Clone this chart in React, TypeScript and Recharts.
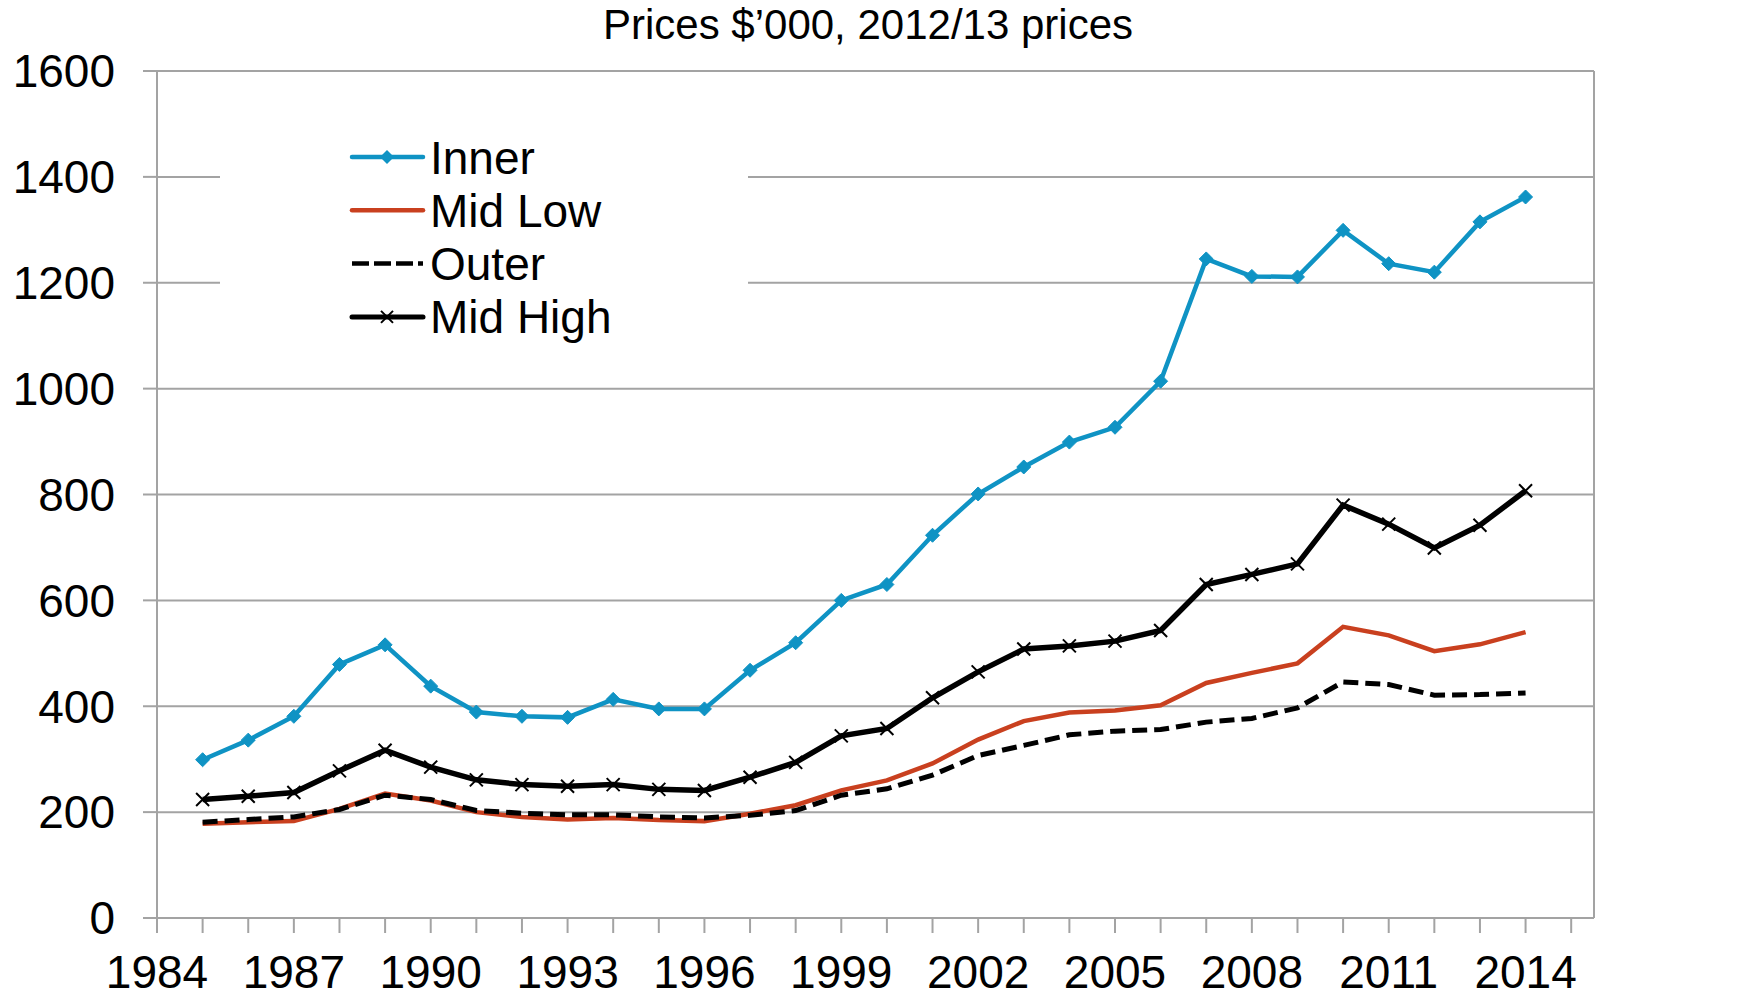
import React from "react";
import {
  LineChart, Line, XAxis, YAxis, CartesianGrid, Legend,
} from "recharts";

// ── Data ───────────────────────────────────────────────────────────────────
const years = [
  1985, 1986, 1987, 1988, 1989, 1990, 1991, 1992, 1993, 1994,
  1995, 1996, 1997, 1998, 1999, 2000, 2001, 2002, 2003, 2004,
  2005, 2006, 2007, 2008, 2009, 2010, 2011, 2012, 2013, 2014,
];
const inner = [
  299, 336, 381, 479, 516, 438, 389, 381, 379, 413,
  395, 395, 468, 520, 600, 630, 723, 801, 852, 899,
  927, 1014, 1245, 1212, 1211, 1299, 1236, 1220, 1315, 1362,
];
const midLow = [
  178, 181, 183, 206, 235, 222, 200, 191, 186, 189,
  185, 183, 197, 213, 241, 260, 292, 337, 372, 388,
  392, 402, 444, 463, 481, 550, 534, 504, 517, 540,
];
const outer = [
  181, 186, 191, 205, 232, 224, 203, 198, 195, 195,
  191, 189, 194, 203, 232, 244, 270, 307, 326, 346,
  353, 356, 370, 377, 397, 446, 441, 421, 422, 425,
];
const midHigh = [
  224, 230, 237, 278, 317, 285, 261, 252, 249, 252,
  243, 241, 266, 294, 344, 358, 416, 465, 508, 514,
  523, 543, 630, 649, 669, 780, 744, 699, 742, 807,
];
const xTicks = [
  1984, 1985, 1986, 1987, 1988, 1989, 1990, 1991, 1992, 1993, 1994,
  1995, 1996, 1997, 1998, 1999, 2000, 2001, 2002, 2003, 2004, 2005,
  2006, 2007, 2008, 2009, 2010, 2011, 2012, 2013, 2014, 2015,
];
const xLabels = [1984, 1987, 1990, 1993, 1996, 1999, 2002, 2005, 2008, 2011, 2014];
const yTicks = [0, 200, 400, 600, 800, 1000, 1200, 1400, 1600];
const title = "Prices $\u2019000, 2012/13 prices";

const data = years.map((year, i) => ({
  year,
  Inner: inner[i],
  "Mid Low": midLow[i],
  Outer: outer[i],
  "Mid High": midHigh[i],
}));

// ── Style ──────────────────────────────────────────────────────────────────
const FONT = "'Liberation Sans', Arial, Helvetica, sans-serif";
const GRID = "#a3a3a3";
const BLUE = "#0f93c4";
const RED = "#c9401f";
const BLACK = "#000000";

const TICK_STYLE = { fill: "#000", fontSize: 46, fontFamily: FONT };

// ── Markers ────────────────────────────────────────────────────────────────
const diamond = (cx: number, cy: number, r: number) =>
  `M${cx},${cy - r} L${cx + r},${cy} L${cx},${cy + r} L${cx - r},${cy} Z`;

const DiamondDot = (props: any) => {
  const { cx, cy, index } = props;
  if (cx == null || cy == null) return <g key={`d-${index}`} />;
  return <path key={`d-${index}`} d={diamond(cx, cy, 7)} fill={BLUE} stroke={BLUE} strokeWidth={1} />;
};

const CrossDot = (props: any) => {
  const { cx, cy, index } = props;
  if (cx == null || cy == null) return <g key={`x-${index}`} />;
  const r = 6.5;
  return (
    <path
      key={`x-${index}`}
      d={`M${cx - r},${cy - r} L${cx + r},${cy + r} M${cx - r},${cy + r} L${cx + r},${cy - r}`}
      stroke={BLACK}
      strokeWidth={2}
      fill="none"
    />
  );
};

// ── Legend ─────────────────────────────────────────────────────────────────
const LEGEND_ROWS = [
  { name: "Inner", color: BLUE, dash: undefined, marker: "diamond", width: 4.5 },
  { name: "Mid Low", color: RED, dash: undefined, marker: "none", width: 4.5 },
  { name: "Outer", color: BLACK, dash: "17 5", marker: "none", width: 4.5 },
  { name: "Mid High", color: BLACK, dash: undefined, marker: "cross", width: 5 },
];

const ChartLegend = () => (
  <svg width={528} height={230} style={{ display: "block" }}>
    {LEGEND_ROWS.map((r, i) => {
      const cy = 37 + i * 53.3;
      return (
        <g key={r.name}>
          <line
            x1={132} x2={203} y1={cy} y2={cy}
            stroke={r.color} strokeWidth={r.width} strokeDasharray={r.dash}
            strokeLinecap={r.dash ? "butt" : "round"}
          />
          {r.marker === "diamond" && <path d={diamond(167, cy, 7)} fill={BLUE} />}
          {r.marker === "cross" && (
            <path
              d={`M161,${cy - 6} L173,${cy + 6} M161,${cy + 6} L173,${cy - 6}`}
              stroke={BLACK} strokeWidth={2}
            />
          )}
          <text x={210} y={cy + 16.5} fontSize={46} fontFamily={FONT} fill="#000">
            {r.name}
          </text>
        </g>
      );
    })}
  </svg>
);

// ── Chart ──────────────────────────────────────────────────────────────────
export default function App() {
  return (
    <div style={{ position: "absolute", left: 0, top: 0, width: 1760, height: 997, background: "#fff", fontFamily: FONT }}>
      <div style={{
        position: "absolute", left: 468, top: 4, width: 800, textAlign: "center",
        fontSize: 42, lineHeight: "42px", color: "#000", fontFamily: FONT, zIndex: 2,
      }}>
        {title}
      </div>
      <LineChart
        width={1760}
        height={997}
        data={data}
        margin={{ top: 71, right: 66, bottom: 19, left: 57 }}
      >
        <CartesianGrid horizontal vertical={false} stroke={GRID} strokeWidth={2} />
        <XAxis
          dataKey="year"
          type="number"
          domain={[1984, 2015.5]}
          ticks={xTicks}
          interval={0}
          allowDataOverflow
          height={60}
          tick={TICK_STYLE}
          tickSize={15}
          tickMargin={22}
          tickLine={{ stroke: GRID, strokeWidth: 2 }}
          axisLine={{ stroke: GRID, strokeWidth: 2 }}
          tickFormatter={(v: number) => (xLabels.includes(v) ? String(v) : "")}
        />
        <YAxis
          domain={[0, 1600]}
          ticks={yTicks}
          interval={0}
          width={100}
          tick={TICK_STYLE}
          tickSize={14}
          tickMargin={28}
          tickLine={{ stroke: GRID, strokeWidth: 2 }}
          axisLine={{ stroke: GRID, strokeWidth: 2 }}
        />
        <YAxis
          yAxisId="right"
          orientation="right"
          domain={[0, 1600]}
          ticks={yTicks}
          interval={0}
          width={100}
          tick={{ ...TICK_STYLE, textAnchor: "start" }}
          tickSize={14}
          tickMargin={28}
          tickLine={{ stroke: GRID, strokeWidth: 2 }}
          axisLine={{ stroke: GRID, strokeWidth: 2 }}
        />
        <Legend
          layout="vertical"
          align="center"
          verticalAlign="middle"
          content={<ChartLegend />}
          wrapperStyle={{
            position: "absolute", left: 220, top: 120, width: 528, height: 230,
            background: "#fff", margin: 0,
          }}
        />
        <Line
          dataKey="Inner"
          stroke={BLUE}
          strokeWidth={4.5}
          dot={DiamondDot}
          activeDot={false}
          isAnimationActive={false}
        />
        <Line
          dataKey="Mid Low"
          stroke={RED}
          strokeWidth={4.5}
          dot={false}
          activeDot={false}
          isAnimationActive={false}
        />
        <Line
          dataKey="Outer"
          stroke={BLACK}
          strokeWidth={5}
          strokeDasharray="15 7"
          dot={false}
          activeDot={false}
          isAnimationActive={false}
        />
        <Line
          dataKey="Mid High"
          stroke={BLACK}
          strokeWidth={5.5}
          dot={CrossDot}
          activeDot={false}
          isAnimationActive={false}
        />
      </LineChart>
    </div>
  );
}
